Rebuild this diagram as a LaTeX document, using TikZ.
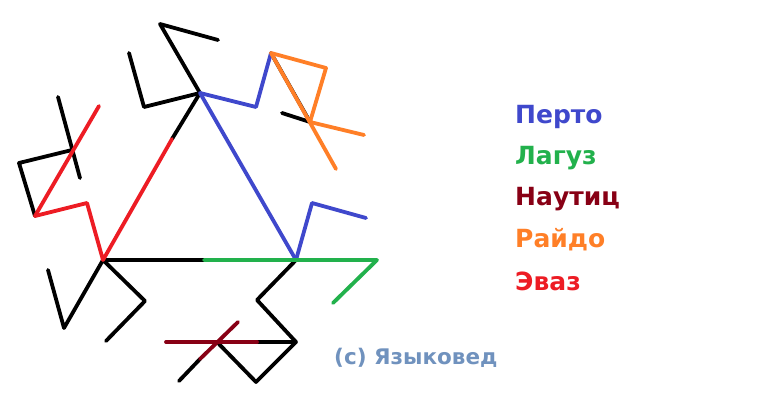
\documentclass[tikz,border=0pt]{standalone}
\usepackage{fontspec}
\setmainfont{DejaVu Sans}
\definecolor{rblue}{RGB}{63,72,204}
\definecolor{rgreen}{RGB}{34,177,76}
\definecolor{rdark}{RGB}{136,0,21}
\definecolor{rorange}{RGB}{255,127,39}
\definecolor{rred}{RGB}{237,28,36}
\definecolor{rcopy}{RGB}{112,146,190}
\begin{document}
\begin{tikzpicture}[x=1pt,y=-1pt,
  stroke/.style={line width=3.8pt,line cap=round,line join=round},
  legend/.style={anchor=west,inner sep=0pt,font=\fontsize{25}{25}\selectfont\bfseries}]
\useasboundingbox[fill=white] (0,0) rectangle (765,404);
% main vertices
\coordinate (A) at (200,93);
\coordinate (L) at (103,260);
\coordinate (R) at (296,260);
\coordinate (Am) at (172,139);
\coordinate (Lm) at (204,260);
% top rune
\coordinate (t1) at (160,24);
\coordinate (t2) at (218,40);
\coordinate (t3) at (129,53);
\coordinate (t4) at (144,107);
% blue / orange
\coordinate (b1) at (256,107);
\coordinate (b2) at (271,53);
\coordinate (o1) at (326,68);
\coordinate (o2) at (310,122);
\coordinate (o3) at (364,135);
\coordinate (o4) at (336,169);
\coordinate (k1) at (282,113);
% left rune
\coordinate (l1) at (58,97);
\coordinate (l2) at (80,178);
\coordinate (l3) at (72,150);
\coordinate (l4) at (19,163);
\coordinate (l5) at (35,216);
\coordinate (e1) at (99,106);
\coordinate (e2) at (87,203);
% right side
\coordinate (g1) at (377,260);
\coordinate (g2) at (333,303);
\coordinate (p1) at (312,203);
\coordinate (p2) at (366,218);
% bottom left rune
\coordinate (m1) at (64,328);
\coordinate (m2) at (48,270);
\coordinate (m3) at (145,301);
\coordinate (m4) at (106,341);
% bottom right rune
\coordinate (n1) at (257,300);
\coordinate (n2) at (296,342);
\coordinate (n3) at (166,342);
\coordinate (n4) at (257,342);
\coordinate (n5) at (217,342);
\coordinate (n6) at (238,322);
\coordinate (n7) at (200,359);
\coordinate (n8) at (179,381);
\coordinate (n9) at (256,382);
% black strokes
\draw[stroke,black] (t2) -- (t1) -- (A);
\draw[stroke,black] (t3) -- (t4) -- (A);
\draw[stroke,black] (A) -- (Am);
\draw[stroke,black] (b2) -- (o2);
\draw[stroke,black] (k1) -- (o2);
\draw[stroke,black] (l1) -- (l2);
\draw[stroke,black] (l3) -- (l4) -- (l5);
\draw[stroke,black] (L) -- (Lm);
\draw[stroke,black] (m2) -- (m1) -- (L) -- (m3) -- (m4);
\draw[stroke,black] (R) -- (n1) -- (n2) -- (n4);
\draw[stroke,black] (n5) -- (n9) -- (n2);
\draw[stroke,black] (n7) -- (n8);
% coloured strokes
\draw[stroke,rred] (Am) -- (L) -- (e2) -- (l5);
\draw[stroke,rred] (l5) -- (e1);
\draw[stroke,rblue] (R) -- (A) -- (b1) -- (b2);
\draw[stroke,rblue] (R) -- (p1) -- (p2);
\draw[stroke,rgreen] (Lm) -- (g1) -- (g2);
\draw[stroke,rorange] (b2) -- (o4);
\draw[stroke,rorange] (b2) -- (o1) -- (o2) -- (o3);
\draw[stroke,rdark] (n3) -- (n4);
\draw[stroke,rdark] (n6) -- (n7);
% legend
\node[legend,text=rblue] (perto) at (515,117) {Перто};
\node[legend,text=rgreen] (laguz) at (515,158) {Лагуз};
\node[legend,text=rdark] (nautiz) at (515,199) {Наутиц};
\node[legend,text=rorange] (raido) at (515,240) {Райдо};
\node[legend,text=rred] (evaz) at (515,281) {Эваз};
\node[anchor=west,inner sep=0pt,text=rcopy,font=\fontsize{21.5}{21.5}\selectfont\bfseries] (copy) at (334,358) {(c) Языковед};
\end{tikzpicture}
\end{document}
